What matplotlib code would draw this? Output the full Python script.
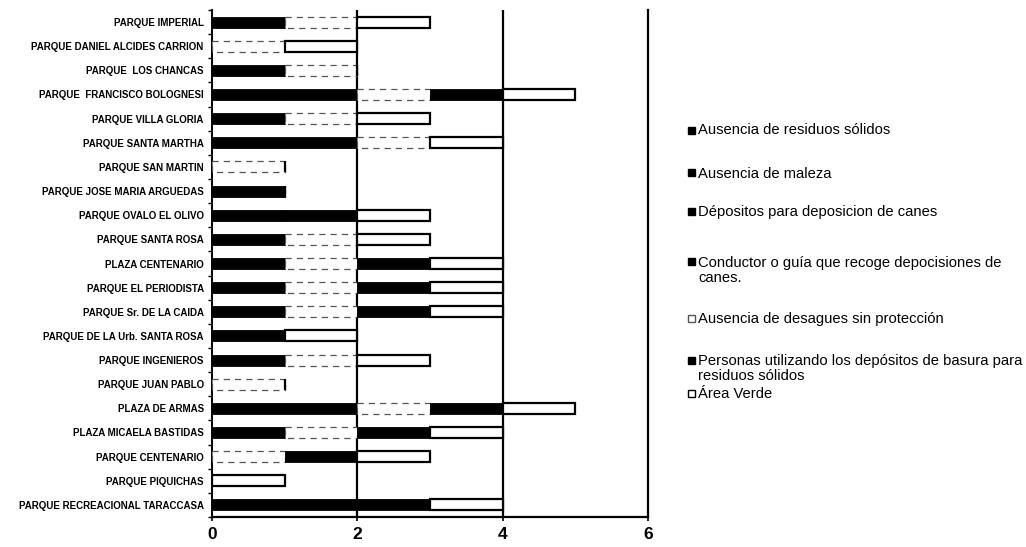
import matplotlib
matplotlib.use("Agg")
import matplotlib.pyplot as plt
from matplotlib.patches import Rectangle
import numpy as np

parques = [
    "PARQUE IMPERIAL", "PARQUE DANIEL ALCIDES CARRION", "PARQUE  LOS CHANCAS",
    "PARQUE  FRANCISCO BOLOGNESI", "PARQUE VILLA GLORIA", "PARQUE SANTA MARTHA",
    "PARQUE SAN MARTIN", "PARQUE JOSE MARIA ARGUEDAS", "PARQUE OVALO EL OLIVO",
    "PARQUE SANTA ROSA", "PLAZA CENTENARIO", "PARQUE EL PERIODISTA",
    "PARQUE Sr. DE LA CAIDA", "PARQUE DE LA Urb. SANTA ROSA", "PARQUE INGENIEROS",
    "PARQUE JUAN PABLO", "PLAZA DE ARMAS", "PLAZA MICAELA BASTIDAS",
    "PARQUE CENTENARIO", "PARQUE PIQUICHAS", "PARQUE RECREACIONAL TARACCASA",
]

residuos  = [1, 0, 1, 1, 1, 1, 0, 1, 1, 1, 1, 1, 1, 1, 1, 0, 1, 1, 0, 0, 1]
maleza    = [0, 0, 0, 1, 0, 1, 0, 0, 1, 0, 0, 0, 0, 0, 0, 0, 1, 0, 0, 0, 1]
depositos = [0, 0, 0, 0, 0, 0, 0, 0, 0, 0, 0, 0, 0, 0, 0, 0, 0, 0, 0, 0, 1]
conductor = [0, 0, 0, 0, 0, 0, 0, 0, 0, 0, 0, 0, 0, 0, 0, 0, 0, 0, 0, 0, 0]
desagues  = [1, 1, 1, 1, 1, 1, 1, 0, 0, 1, 1, 1, 1, 0, 1, 1, 1, 1, 1, 0, 0]
personas  = [0, 0, 0, 1, 0, 0, 0, 0, 0, 0, 1, 1, 1, 0, 0, 0, 1, 1, 1, 0, 0]
area      = [1, 1, 0, 1, 1, 1, 0, 0, 1, 1, 1, 1, 1, 1, 1, 0, 1, 1, 1, 1, 1]

series_names = [
    "Ausencia de residuos sólidos",
    "Ausencia de maleza",
    "Dépositos para deposicion de canes",
    "Conductor o guía que recoge depocisiones de\ncanes.",
    "Ausencia de desagues sin protección",
    "Personas utilizando los depósitos de basura para\nresiduos sólidos",
    "Área Verde",
]
series_values = [residuos, maleza, depositos, conductor, desagues, personas, area]

# face colour, edge colour, edge style, edge width
styles = [
    ("black", "black", "-", 0.6),
    ("black", "black", "-", 0.6),
    ("black", "black", "-", 0.6),
    ("black", "black", "-", 0.6),
    ("white", "#555555", (0, (5, 4)), 0.9),
    ("black", "black", "-", 0.6),
    ("white", "black", "-", 1.6),
]

plt.rcParams["font.family"] = ["Liberation Sans", "DejaVu Sans"]

fig = plt.figure(figsize=(10.26, 5.47), dpi=100)
ax = fig.add_axes([212 / 1026, 1 - 517 / 547, (648 - 212) / 1026, (517 - 10) / 547])

y = np.arange(len(parques))
left = np.zeros(len(parques))
for vals, (fc, ec, ls, lw) in zip(series_values, styles):
    vals = np.array(vals, dtype=float)
    ax.barh(y, vals, left=left, height=0.46, color=fc, edgecolor=ec,
            linestyle=ls, linewidth=lw, zorder=3)
    left += vals

ax.set_xlim(0, 6)
ax.set_ylim(len(parques) - 0.5, -0.5)

ax.set_yticks(y)
ax.set_yticklabels(parques, fontsize=7, fontweight="bold")
ax.set_yticks(np.arange(-0.5, len(parques)), minor=True)
ax.tick_params(axis="y", which="major", length=0, pad=6)
ax.tick_params(axis="y", which="minor", length=3, width=1, direction="out")

ax.set_xticks([0, 2, 4, 6])
ax.set_xticklabels(["0", "2", "4", "6"], fontsize=12.5, fontweight="bold")
ax.tick_params(axis="x", length=3, width=1.2, pad=4)

for xv in [2, 4]:
    ax.axvline(xv, color="black", lw=1.6, zorder=2)

ax.spines["top"].set_visible(False)
ax.spines["right"].set_linewidth(1.6)
ax.spines["left"].set_linewidth(1.4)
ax.spines["bottom"].set_linewidth(1.6)

# legend drawn beside the plot area (y of first text line, in pixels)
legend_y = [130, 173, 212, 262, 318, 360, 393]
mx = 688 / 1026
for name, (fc, ec, ls, lw), ly in zip(series_names, styles, legend_y):
    yf = 1 - ly / 547
    sq = Rectangle((mx, yf - 3.5 / 547), 7 / 1026, 7 / 547, transform=fig.transFigure,
                   facecolor=fc, edgecolor=ec, linewidth=1.0, linestyle="-")
    fig.patches.append(sq)
    fig.text(mx + 10 / 1026, yf + 6.5 / 547, name, fontsize=10.6, va="top", ha="left",
             linespacing=1.1)

fig.savefig("out.png", dpi=100)
